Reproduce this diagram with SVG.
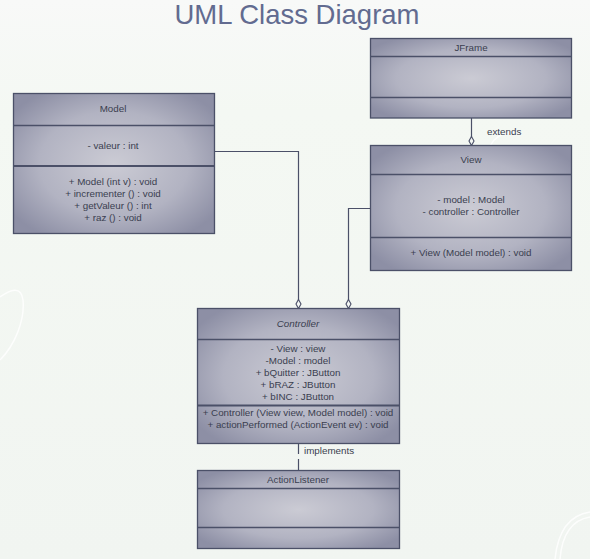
<svg xmlns="http://www.w3.org/2000/svg" width="590" height="559" viewBox="0 0 590 559">
<defs>
<linearGradient id="bg" x1="0" y1="0" x2="0" y2="1">
<stop offset="0" stop-color="#f8f9f8"/>
<stop offset="0.2" stop-color="#f4f8f3"/>
<stop offset="1" stop-color="#f1f5f1"/>
</linearGradient>
<radialGradient id="box" cx="0.5" cy="0.5" r="0.62">
<stop offset="0" stop-color="#cbcbd4"/>
<stop offset="0.6" stop-color="#b2b3c2"/>
<stop offset="1" stop-color="#8d8fa5"/>
</radialGradient>
<style>
.box{fill:url(#box);stroke:#4b5068;stroke-width:1.3}
.div{stroke:#4b5068;stroke-width:1.3}
.dbl{stroke:#4b5068;stroke-width:2.2}
.t{font-family:"Liberation Sans",Arial,sans-serif;font-size:9.8px;fill:#3a3e4f;text-anchor:middle}
.lbl{font-family:"Liberation Sans",Arial,sans-serif;font-size:9.8px;fill:#3a3e4f}
.conn{fill:none;stroke:#4b5068;stroke-width:1.2}
.dia{fill:#f4f7f4;stroke:#4b5068;stroke-width:1.1}
.bub{fill:none;stroke:#ffffff;stroke-width:1.5;opacity:0.8}
</style>
</defs>
<rect width="590" height="559" fill="url(#bg)"/>
<path class="bub" d="M0,360 C15,345 25,320 23,300 C21,285 10,290 0,297"/>
<path class="bub" d="M555,559 C558,530 570,515 590,512"/>
<path class="bub" d="M560,559 C562,535 572,520 590,517" stroke-width="1"/>
<path class="bub" d="M490,146 C495,136 505,131 520,133" stroke-width="1"/>
<text x="297" y="24" font-family="Liberation Sans,Arial,sans-serif" font-size="27.5" fill="#626b90" text-anchor="middle">UML Class Diagram</text>

<g id="connectors">
<path class="conn" d="M214,151.5 H298.5 V300"/>
<path class="dia" d="M298.5,299.5 L301,304 L298.5,308.5 L296,304 Z"/>
<path class="conn" d="M370,208.5 H348.5 V300"/>
<path class="dia" d="M348.5,299.5 L351,304 L348.5,308.5 L346,304 Z"/>
<path class="conn" d="M471.5,118 V137"/>
<path class="dia" d="M471.5,136.5 L474,141 L471.5,145.5 L469,141 Z"/>
<text class="lbl" x="487" y="135">extends</text>
<path class="conn" d="M298.5,443 V454 M298.5,459 V470"/>
<text class="lbl" x="304" y="454">implements</text>
</g>

<g id="Model">
<rect class="box" x="13.5" y="93.5" width="201" height="140"/>
<line class="div" x1="13.5" y1="125.5" x2="214.5" y2="125.5"/>
<line class="dbl" x1="13.5" y1="166" x2="214.5" y2="166"/>
<text class="t" x="113" y="112">Model</text>
<text class="t" x="113" y="149">- valeur : int</text>
<text class="t" x="113" y="185">+ Model (int v) : void</text>
<text class="t" x="113" y="197">+ incrementer () : void</text>
<text class="t" x="113" y="209">+ getValeur () : int</text>
<text class="t" x="113" y="221">+ raz () : void</text>
</g>

<g id="JFrame">
<rect class="box" x="370.5" y="38.5" width="201" height="79.5"/>
<line class="div" x1="370.5" y1="56.5" x2="571.5" y2="56.5"/>
<line class="div" x1="370.5" y1="97.5" x2="571.5" y2="97.5"/>
<text class="t" x="471" y="51">JFrame</text>
</g>

<g id="View">
<rect class="box" x="370.5" y="145.5" width="201" height="125"/>
<line class="div" x1="370.5" y1="174.5" x2="571.5" y2="174.5"/>
<line class="div" x1="370.5" y1="237.5" x2="571.5" y2="237.5"/>
<text class="t" x="471" y="163">View</text>
<text class="t" x="471" y="203">- model : Model</text>
<text class="t" x="471" y="215">- controller : Controller</text>
<text class="t" x="471" y="256">+ View (Model model) : void</text>
</g>

<g id="Controller">
<rect class="box" x="197.5" y="308.5" width="202" height="135"/>
<line class="div" x1="197.5" y1="339.5" x2="399.5" y2="339.5"/>
<line class="dbl" x1="197.5" y1="405.5" x2="399.5" y2="405.5"/>
<text class="t" x="298" y="327" font-style="italic">Controller</text>
<text class="t" x="298" y="352">- View : view</text>
<text class="t" x="298" y="364">-Model : model</text>
<text class="t" x="298" y="376">+ bQuitter : JButton</text>
<text class="t" x="298" y="388">+ bRAZ : JButton</text>
<text class="t" x="298" y="400">+ bINC : JButton</text>
<text class="t" x="298" y="416">+ Controller (View view, Model model) : void</text>
<text class="t" x="298" y="428">+ actionPerformed (ActionEvent ev) : void</text>
</g>

<g id="ActionListener">
<rect class="box" x="197.5" y="470.5" width="202" height="78"/>
<line class="div" x1="197.5" y1="488.5" x2="399.5" y2="488.5"/>
<line class="div" x1="197.5" y1="527.5" x2="399.5" y2="527.5"/>
<text class="t" x="298" y="483">ActionListener</text>
</g>
</svg>
